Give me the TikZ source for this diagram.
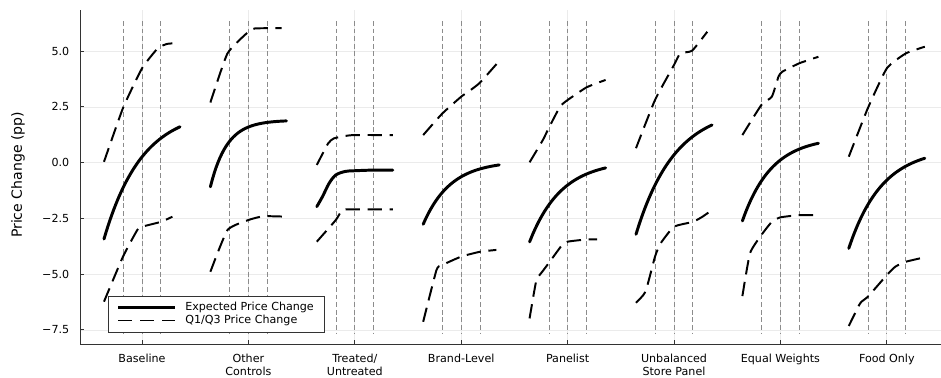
\documentclass[tikz,border=0pt]{standalone}
\usepackage{fontspec}
\setmainfont{DejaVu Sans}
\usepackage{xcolor}
\usepackage{tikz}
\usetikzlibrary{positioning,calc}

% saturating curve A - B exp(-k(t+2)) on t in [-2,2]
\newcommand{\satcurve}[3]{\draw[expected] plot[domain=-2:2, samples=41, variable=\t] (\t, {#1-#2*exp(-#3*(\t+2))});}

\begin{document}
\begin{tikzpicture}[x=0.025cm, y=-0.025cm,
    every node/.style={font=\fontsize{7.9}{9.3}\selectfont},
    gridline/.style={black!8, line width=0.5pt},
    spine/.style={black!80, line width=0.7pt},
    cutline/.style={black!45, line width=0.5pt, dash pattern=on 0.12cm off 0.07cm},
    expected/.style={black, line width=2.1pt, line cap=round},
    quartile/.style={black, line width=1.4pt, dash pattern=on 0.36cm off 0.19cm},
    ticklabel/.style={anchor=east, inner sep=0pt},
    grouplabel/.style={anchor=north, align=center, inner sep=0pt},
    panel/.style={shift={(#1,162.7)}, x=0.475cm, y=0.5575cm},
]
\useasboundingbox (0,0) rectangle (941,377);

% grid
\foreach \v/\lab [count=\j] in {5/5.0, 2.5/2.5, 0/0.0, -2.5/−2.5, -5/−5.0, -7.5/−7.5} {
    \pgfmathsetmacro{\py}{162.7-22.3*\v}
    \draw[gridline] (80,\py) -- (941,\py);
    \node[ticklabel] (ytick\j) at (69.5,\py) {\lab};
}
\foreach \lab [count=\i from 0] in {Baseline, {Other\\Controls}, {Treated/\\Untreated}, Brand-Level, Panelist, {Unbalanced\\Store Panel}, Equal Weights, Food Only} {
    \pgfmathsetmacro{\px}{142+106.4*\i}
    \draw[gridline] (\px,10) -- (\px,344);
    \foreach \d in {-18.7,0,18.7}
        \draw[cutline] ({\px+\d},21) -- ({\px+\d},334);
    \node[grouplabel] (group\i) at (\px,353.5) {\lab};
}

% curves
\begin{scope}[panel=142]
\draw[quartile] plot[smooth, tension=0.3] coordinates {(-2,0.04) (-1,2.45) (0,4.23) (0.83,5.13) (1.3,5.32) (1.6,5.35)};
\satcurve{2.394}{5.814}{0.501}
\draw[quartile] plot[smooth, tension=0.3] coordinates {(-2,-6.23) (-1,-4.21) (-0.25,-3.02) (0,-2.87) (1,-2.65) (1.6,-2.42)};
\end{scope}
\begin{scope}[panel=248.4]
\draw[quartile] plot[smooth, tension=0.3] coordinates {(-2,2.7) (-1.1,4.9) (0,5.87) (0.35,6.02) (1.75,6.03)};
\satcurve{1.905}{2.985}{1.139}
\draw[quartile] plot[smooth, tension=0.3] coordinates {(-2,-4.89) (-1.1,-3.02) (0,-2.57) (0.8,-2.4) (2,-2.42)};
\end{scope}
\begin{scope}[panel=354.8]
\draw[quartile] plot[smooth, tension=0.3] coordinates {(-2,-0.1) (-1.4,0.87) (-1.1,1.09) (-0.5,1.2) (0,1.24) (2,1.24)};
\draw[expected] plot[smooth] coordinates {(-2,-1.97) (-1.7,-1.52) (-1.35,-0.92) (-1,-0.55) (-0.5,-0.39) (0,-0.36) (1,-0.33) (2,-0.33)};
\draw[quartile] plot[smooth, tension=0.3] coordinates {(-2,-3.54) (-1,-2.57) (-0.65,-2.12) (0,-2.09) (2,-2.09)};
\end{scope}
\begin{scope}[panel=461.2]
\draw[quartile] plot[smooth, tension=0.3] coordinates {(-2,1.24) (-1,2.2) (0,2.96) (0.5,3.26) (1,3.6) (2,4.56)};
\satcurve{0.076}{2.836}{0.695}
\draw[quartile] plot[smooth, tension=0.3] coordinates {(-2,-7.13) (-1.3,-4.81) (-1,-4.59) (0,-4.21) (1,-3.99) (1.85,-3.91)};
\end{scope}
\begin{scope}[panel=567.6]
\draw[quartile] plot[smooth, tension=0.3] coordinates {(-2,0.02) (-1.3,1.02) (-1,1.54) (-0.4,2.51) (0,2.81) (1,3.38) (2,3.71)};
\satcurve{0.1}{3.65}{0.598}
\draw[quartile] plot[smooth, tension=0.3] coordinates {(-2,-6.98) (-1.65,-5.3) (-1.3,-4.85) (-1,-4.51) (-0.3,-3.7) (0,-3.54) (1,-3.44) (1.55,-3.44)};
\end{scope}
\begin{scope}[panel=674]
\draw[quartile] plot[smooth, tension=0.3] coordinates {(-2,0.65) (-1,2.81) (0,4.38) (0.33,4.9) (0.95,5.02) (1.75,5.87)};
\satcurve{2.499}{5.709}{0.489}
\draw[quartile] plot[smooth, tension=0.3] coordinates {(-2,-6.28) (-1.5,-5.78) (-1,-4.21) (-0.7,-3.61) (0,-2.87) (1,-2.65) (1.5,-2.42) (2,-2.12)};
\end{scope}
\begin{scope}[panel=780.4]
\draw[quartile] plot[smooth, tension=0.3] coordinates {(-2,1.24) (-1,2.59) (-0.45,2.96) (-0.1,3.86) (0.1,4.08) (1,4.46) (2,4.75)};
\satcurve{1.154}{3.764}{0.646}
\draw[quartile] plot[smooth, tension=0.3] coordinates {(-2,-5.98) (-1.6,-4.06) (-1,-3.24) (-0.45,-2.65) (0,-2.45) (1,-2.35) (2,-2.35)};
\end{scope}
\begin{scope}[panel=886.8]
\draw[quartile] plot[smooth, tension=0.3] coordinates {(-2,0.27) (-1,2.44) (0,4.23) (1,4.9) (2,5.2)};
\satcurve{0.661}{4.501}{0.569}
\draw[quartile] plot[smooth, tension=0.3] coordinates {(-2,-7.32) (-1.4,-6.3) (-1,-6.01) (0,-5.04) (0.45,-4.66) (1,-4.44) (2,-4.24)};
\end{scope}

% axes
\coordinate (origin) at (80,344);
\coordinate (ytop) at (80,10);
\coordinate (xend) at (941,344);
\draw[spine] (ytop) -- (origin) -- (xend);
\foreach \v in {5,2.5,0,-2.5,-5,-7.5}
    \draw[spine] (80,{162.7-22.3*\v}) -- ++(4,0);
\foreach \i in {0,...,7}
    \draw[spine] ({142+106.4*\i},344) -- ++(0,-4);
\node[rotate=90, font=\fontsize{10}{12}\selectfont] (ylabel) at (18,175) {Price Change (pp)};

% legend
\node[draw=black!80, fill=white, line width=0.6pt, anchor=north west, inner sep=0pt,
      minimum width=5.4cm, minimum height=0.9cm] (legend) at (108,296) {};
\coordinate (solidA) at (118,307.5);
\coordinate (solidB) at (175,307.5);
\coordinate (dashA) at (118,320.5);
\coordinate (dashB) at (175,320.5);
\draw[expected, line cap=butt] (solidA) -- (solidB);
\draw[quartile] (dashA) -- (dashB);
\node[anchor=west, inner sep=0pt] (legexp) at (185,307.5) {Expected Price Change};
\node[anchor=west, inner sep=0pt] (legq) at (185,320.5) {Q1/Q3 Price Change};
\end{tikzpicture}
\end{document}
